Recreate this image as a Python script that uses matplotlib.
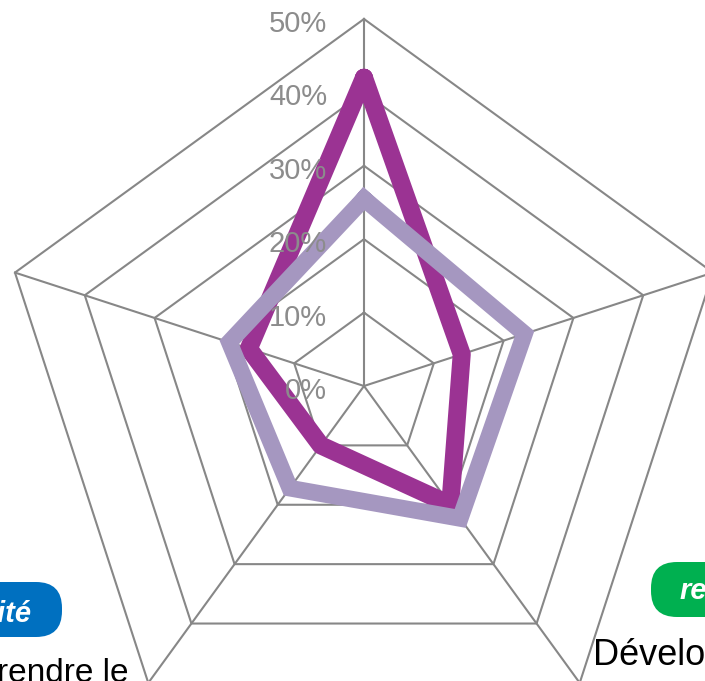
import numpy as np
import matplotlib
matplotlib.use("Agg")
import matplotlib.pyplot as plt
from matplotlib.patches import FancyBboxPatch

plt.rcParams['font.family'] = ['Liberation Sans', 'DejaVu Sans']

# ---- data ----
categories = ["Appliquer", "Analyser", "Développer", "Comprendre le", "Créer"]
series_a = [42.0, 14.0, 20.0, 10.0, 16.5]     # purple
series_b = [25.5, 23.0, 22.3, 17.2, 19.3]     # lavender
tick_values = [0, 10, 20, 30, 40, 50]
tick_labels = ["0%", "10%", "20%", "30%", "40%", "50%"]

W, H = 705, 681
fig = plt.figure(figsize=(W / 100, H / 100), dpi=100)

# polar axes: centre (364, 386) px from top-left, radius 367 px
cx, cy, R = 364, 386, 367
ax = fig.add_axes([(cx - R) / W, (H - cy - R) / H, 2 * R / W, 2 * R / H],
                  projection='polar')
ax.set_theta_zero_location('N')
ax.set_theta_direction(-1)
ax.set_ylim(0, 50)
ax.set_axis_off()
ax.patch.set_alpha(0)

n = len(categories)
theta = np.linspace(0, 2 * np.pi, n, endpoint=False)
theta_c = np.append(theta, theta[0])

grid_col = '#878787'
for v in tick_values[1:]:
    ax.plot(theta_c, [v] * (n + 1), color=grid_col, lw=1.5, zorder=1, clip_on=False)
for t in theta:
    ax.plot([t, t], [0, tick_values[-1]], color=grid_col, lw=1.5, zorder=1, clip_on=False)

a = np.append(series_a, series_a[0])
b = np.append(series_b, series_b[0])
ax.plot(theta_c, a, color='#9B3393', lw=13, zorder=3, solid_joinstyle='round',
        solid_capstyle='round', clip_on=False)
ax.plot(theta_c, b, color='#A597C0', lw=12, zorder=4, solid_joinstyle='miter',
        clip_on=False)

for v, lab in zip(tick_values, tick_labels):
    ax.annotate(lab, xy=(0, v), xytext=(-37, -5), textcoords='offset pixels',
                ha='right', va='center', fontsize=21, color='#8C8C8C', zorder=5,
                annotation_clip=False)

# ---- overlay for outside labels (pixel coordinates) ----
ov = fig.add_axes([0, 0, 1, 1])
ov.set_xlim(0, W)
ov.set_ylim(H, 0)
ov.set_axis_off()
ov.patch.set_alpha(0)

# blue pill (left)
ov.add_patch(FancyBboxPatch((-200, 582), 262, 55,
                            boxstyle='round,pad=0,rounding_size=26',
                            fc='#0070C0', ec='none'))
ov.text(32, 622, "Créativité", ha='right', va='baseline', fontsize=21,
        color='white', fontweight='bold', fontstyle='italic')
# green pill (right)
ov.add_patch(FancyBboxPatch((651, 562), 300, 55,
                            boxstyle='round,pad=0,rounding_size=26',
                            fc='#00B050', ec='none'))
ov.text(680, 599, "relationnel", ha='left', va='baseline', fontsize=21,
        color='white', fontweight='bold', fontstyle='italic')

ov.text(128, 682, "Comprendre le", ha='right', va='baseline', fontsize=24,
        color='black')
ov.text(593, 665, "Développer", ha='left', va='baseline', fontsize=26,
        color='black')
ov.text(364, -7, "Appliquer", ha='center', va='baseline', fontsize=24,
        color='black')

fig.savefig("out.png", dpi=100)
